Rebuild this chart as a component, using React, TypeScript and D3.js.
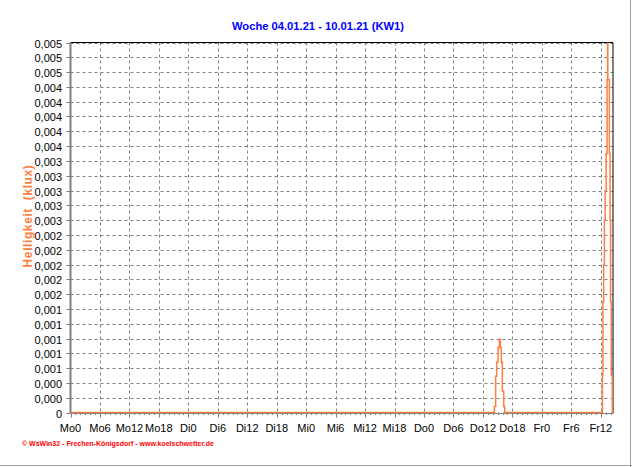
import React from "react";
import * as d3 from "d3";

const title = "Woche 04.01.21 - 10.01.21 (KW1)";
const yTitle = "Helligkeit  (klux)";
const footer = "© WsWin32 - Frechen-Königsdorf - www.koelschwetter.de";

const xTickHours = [0, 6, 12, 18, 24, 30, 36, 42, 48, 54, 60, 66, 72, 78, 84, 90, 96, 102, 108];
const xTickLabels = ["Mo0", "Mo6", "Mo12", "Mo18", "Di0", "Di6", "Di12", "Di18", "Mi0", "Mi6", "Mi12", "Mi18", "Do0", "Do6", "Do12", "Do18", "Fr0", "Fr6", "Fr12"];

const yTickValues = [0, 0.0002, 0.0004, 0.0006, 0.0008, 0.001, 0.0012, 0.0014, 0.0016, 0.0018, 0.002, 0.0022, 0.0024, 0.0026, 0.0028, 0.003, 0.0032, 0.0034, 0.0036, 0.0038, 0.004, 0.0042, 0.0044, 0.0046, 0.0048, 0.005];
const yTickLabels = ["0", "0,000", "0,000", "0,001", "0,001", "0,001", "0,001", "0,001", "0,002", "0,002", "0,002", "0,002", "0,002", "0,003", "0,003", "0,003", "0,003", "0,003", "0,004", "0,004", "0,004", "0,004", "0,004", "0,005", "0,005", "0,005"];

// hours since Monday 0:00, brightness in klux
const times = [0, 86.34, 86.6, 86.8, 87.07, 87.35, 87.55, 87.75, 87.96, 88.24, 88.45,
  108.35, 108.45, 108.6, 108.75, 108.9, 109.1, 109.3, 109.4, 109.45, 109.75, 109.9, 110.0, 110.15, 110.35, 110.5];
const values = [0, 0.00008, 0.00049, 0.00068, 0.00088, 0.00099, 0.00088, 0.00068, 0.00029, 0.00008, 0,
  0.0005, 0.0015, 0.002, 0.0026, 0.003, 0.0035, 0.0045, 0.0056, 0.0045, 0.0035, 0.0026, 0.0015, 0.0005, 0, 0];

const W = 632, H = 467;
const L = 70.5, R = 613, T = 42.5, B = 412.5;
const xMax = 110.5;

export default function App() {
  const x = d3.scaleLinear().domain([0, xMax]).range([L, R]);
  const y = d3.scaleLinear().domain([0, 0.005]).range([B, T]);
  const pts = times.map((t, i) => [t, values[i]] as [number, number]);
  const line = d3.line<[number, number]>().x(d => x(d[0])).y(d => y(d[1])).curve(d3.curveStepAfter);
  const minor = d3.range(0, Math.floor(xMax) + 1, 1);
  const font = "Arial, 'Liberation Sans', sans-serif";
  return (
    <svg width={W} height={H} style={{ position: "absolute", left: 0, top: 0, background: "#fff" }}>
      <rect x={0} y={0} width={W} height={H} fill="#fff" />
      <line x1={W - 1.5} x2={W - 1.5} y1={0} y2={H} stroke="#a0a0a0" />
      <line x1={0} x2={W} y1={H - 1.5} y2={H - 1.5} stroke="#a0a0a0" />
      <text x={318} y={30} textAnchor="middle" fontFamily={font} fontWeight="bold" fontSize={11.2} fill="#0000ff">{title}</text>
      {yTickValues.map((v, i) => (
        <g key={"y" + i}>
          {i > 0 && <line x1={L} x2={R} y1={Math.round(y(v)) + 0.5} y2={Math.round(y(v)) + 0.5} stroke="#808080" strokeDasharray="3,3" />}
          <line x1={L - 4} x2={L} y1={Math.round(y(v)) + 0.5} y2={Math.round(y(v)) + 0.5} stroke="#808080" />
          <text x={62} y={Math.round(y(v)) + 4.5} textAnchor="end" fontFamily={font} fontSize={11} fill="#000">{yTickLabels[i]}</text>
        </g>
      ))}
      {xTickHours.map((h, i) => (
        <g key={"x" + i}>
          {i > 0 && <line x1={Math.round(x(h)) + 0.5} x2={Math.round(x(h)) + 0.5} y1={T} y2={B} stroke="#808080" strokeDasharray="3,3" />}
          <line x1={Math.round(x(h)) + 0.5} x2={Math.round(x(h)) + 0.5} y1={B} y2={B + 5} stroke="#808080" />
          <text x={x(h)} y={432} textAnchor="middle" fontFamily={font} fontSize={11} fill="#000">{xTickLabels[i]}</text>
        </g>
      ))}
      {minor.map(h => (
        <line key={"m" + h} x1={Math.round(x(h)) + 0.5} x2={Math.round(x(h)) + 0.5} y1={B} y2={B + 2.5} stroke="#808080" />
      ))}
      <line x1={L} x2={R} y1={T} y2={T} stroke="#000" />
      <line x1={R} x2={R} y1={T} y2={B + 1} stroke="#000" />
      <line x1={L} x2={L} y1={T} y2={B + 1} stroke="#808080" strokeWidth={2} />
      <line x1={L} x2={R} y1={B + 1} y2={B + 1} stroke="#808080" strokeWidth={1} />
      <defs>
        <clipPath id="plotclip"><rect x={L} y={T} width={R - L} height={B - T + 1} /></clipPath>
      </defs>
      <path d={line(pts) || ""} fill="none" stroke="#ff7f3f" strokeWidth={1.5} clipPath="url(#plotclip)" />
      <text transform={`translate(32,${216}) rotate(-90)`} textAnchor="middle" fontFamily={font} fontWeight="bold" fontSize={12} letterSpacing={0.6} fill="#ff7f3f" style={{ whiteSpace: "pre" }}>{yTitle}</text>
      <text x={22} y={446} fontFamily={font} fontWeight="bold" fontSize={7} fill="#ff0000">{footer}</text>
    </svg>
  );
}
